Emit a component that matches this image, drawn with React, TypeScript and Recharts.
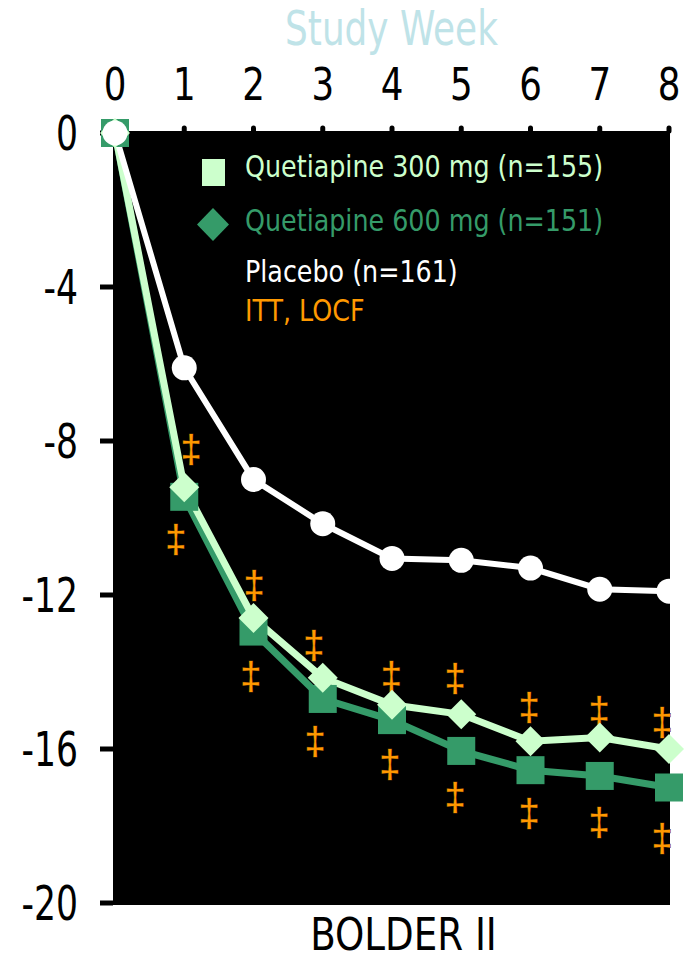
import React from 'react';
import {
    ComposedChart,
    Line,
    Scatter,
    XAxis,
    YAxis,
    CartesianGrid,
    Legend,
} from 'recharts';

const weeks = [0, 1, 2, 3, 4, 5, 6, 7, 8];
const placebo = [0, -6.1, -9.0, -10.15, -11.05, -11.1, -11.3, -11.85, -11.9];
const quet300 = [0, -9.2, -12.6, -14.15, -14.85, -15.1, -15.8, -15.7, -16.0];
const quet600 = [0, -9.45, -12.95, -14.7, -15.25, -16.05, -16.55, -16.7, -17.0];

// significance marks (‡)
const markAboveX = [1.1, 2.01, 2.87, 3.99, 4.91, 5.98, 6.99, 7.9];
const markAboveY = [-8.2, -11.75, -13.3, -14.1, -14.15, -14.9, -15.0, -15.3];
const markBelowX = [0.88, 1.96, 2.89, 3.97, 4.91, 5.98, 6.99, 7.9];
const markBelowY = [-10.55, -14.1, -15.8, -16.4, -17.25, -17.65, -17.9, -18.3];

const yTicks = [0, -4, -8, -12, -16, -20];

const LIGHT = '#ccffcc';
const DARK = '#359b69';
const ORANGE = '#ff9900';
const NARROW = "'Liberation Sans Narrow', 'Arial Narrow', 'DejaVu Sans Condensed', sans-serif";

const data = weeks.map((w, i) => ({
    week: w,
    placebo: placebo[i],
    q300: quet300[i],
    q600: quet600[i],
}));

const marks = [
    ...markAboveX.map((x, i) => ({ week: x, val: markAboveY[i] })),
    ...markBelowX.map((x, i) => ({ week: x, val: markBelowY[i] })),
];

// squeezed text, the fonts here are wider than the original condensed face
const Squeezed = ({ x, y, sx, anchor, size, fill, children, dy = 0 }: any) => (
    <g transform={`translate(${x},${y}) scale(${sx},1)`}>
        <text x={0} y={dy} textAnchor={anchor} fontFamily={NARROW} fontSize={size} fill={fill}>
            {children}
        </text>
    </g>
);

const TopTick = (props: any) => {
    const { x, y, payload } = props;
    return <Squeezed x={x} y={y} sx={0.9} anchor="middle" size={44} fill="#000">{payload.value}</Squeezed>;
};

const LeftTick = (props: any) => {
    const { x, y, payload } = props;
    return <Squeezed x={x} y={y} dy={17} sx={0.8} anchor="end" size={48} fill="#000">{payload.value}</Squeezed>;
};

const TopTitle = (props: any) => {
    const { viewBox } = props;
    return (
        <Squeezed x={viewBox.x + viewBox.width / 2} y={45} sx={0.83} anchor="middle" size={48} fill="#bfe3e8">
            Study Week
        </Squeezed>
    );
};

const BottomTitle = (props: any) => {
    const { viewBox } = props;
    return (
        <Squeezed x={viewBox.x + viewBox.width / 2 + 12} y={950} sx={0.92} anchor="middle" size={45} fill="#000">
            BOLDER II
        </Squeezed>
    );
};

const SquareDot = (props: any) => {
    const { cx, cy, index } = props;
    return <rect key={`sq-${index}`} x={cx - 14} y={cy - 14} width={28} height={28} fill={DARK} />;
};

const DiamondDot = (props: any) => {
    const { cx, cy, index } = props;
    const r = 15;
    return (
        <polygon
            key={`dm-${index}`}
            points={`${cx},${cy - r} ${cx + r},${cy} ${cx},${cy + r} ${cx - r},${cy}`}
            fill={LIGHT}
        />
    );
};

const CircleDot = (props: any) => {
    const { cx, cy, index } = props;
    return <circle key={`ci-${index}`} cx={cx} cy={cy} r={12.5} fill="#ffffff" />;
};

const Dagger = (props: any) => (
    <text
        x={props.cx}
        y={props.cy}
        textAnchor="middle"
        dominantBaseline="central"
        fontFamily="'Liberation Sans', Arial, sans-serif"
        fontSize={38}
        fill={ORANGE}
        stroke="#4a2a00"
        strokeWidth={1}
        paintOrder="stroke"
    >
        ‡
    </text>
);

const LegendBox = () => {
    const row = (h: number, color: string, text: string, marker?: React.ReactNode) => (
        <div style={{ display: 'flex', alignItems: 'center', height: h }}>
            <div style={{ width: 50, height: 36, position: 'relative', flex: 'none' }}>{marker}</div>
            <span
                style={{
                    color,
                    lineHeight: '36px',
                    whiteSpace: 'nowrap',
                    alignSelf: 'flex-start',
                    display: 'inline-block',
                    transform: 'scaleX(0.91)',
                    transformOrigin: 'left center',
                }}
            >
                {text}
            </span>
        </div>
    );
    return (
        <div style={{ fontFamily: NARROW, fontSize: 31 }}>
            {row(
                54,
                LIGHT,
                'Quetiapine 300 mg (n=155)',
                <svg width={50} height={36} style={{ position: 'absolute', left: 0, top: 0 }}>
                    <rect x={7} y={2} width={23} height={27} fill={LIGHT} />
                </svg>
            )}
            {row(
                51,
                DARK,
                'Quetiapine 600 mg (n=151)',
                <svg width={50} height={40} style={{ position: 'absolute', left: 0, top: -2 }}>
                    <polygon points="18,0 34,16.5 18,33 2,16.5" fill={DARK} />
                </svg>
            )}
            {row(39, '#ffffff', 'Placebo (n=161)')}
            {row(36, ORANGE, 'ITT, LOCF')}
        </div>
    );
};

export default function App() {
    return (
        <div style={{ position: 'absolute', left: 0, top: 0, width: 690, height: 960, background: '#fff' }}>
            <ComposedChart width={690} height={960} data={data} margin={{ top: 71, right: 20, bottom: 0, left: 13 }}>
                <CartesianGrid fill="#000" stroke="none" horizontal={false} vertical={false} />
                <XAxis
                    dataKey="week"
                    type="number"
                    orientation="top"
                    domain={[0, 8]}
                    ticks={weeks}
                    height={60}
                    padding={{ left: 2, right: 1 }}
                    axisLine={false}
                    tickLine={{ stroke: '#000', strokeWidth: 5, strokeLinecap: 'round' }}
                    tickSize={3}
                    tickMargin={28}
                    tick={<TopTick />}
                    label={<TopTitle />}
                />
                <XAxis
                    xAxisId="bottom"
                    dataKey="week"
                    type="number"
                    orientation="bottom"
                    domain={[0, 8]}
                    height={55}
                    axisLine={false}
                    tickLine={false}
                    tick={false}
                    label={<BottomTitle />}
                />
                <YAxis
                    type="number"
                    domain={[-20, 0]}
                    ticks={yTicks}
                    width={100}
                    padding={{ top: 2, bottom: 2 }}
                    axisLine={false}
                    tickLine={{ stroke: '#000', strokeWidth: 5 }}
                    tickSize={13}
                    tickMargin={22}
                    tick={<LeftTick />}
                />
                <Legend
                    layout="horizontal"
                    verticalAlign="middle"
                    align="center"
                    content={<LegendBox />}
                    wrapperStyle={{ left: 195, top: 148, width: 440, height: 180 }}
                />
                <Line
                    dataKey="q600"
                    stroke={DARK}
                    strokeWidth={7}
                    dot={SquareDot}
                    activeDot={false}
                    isAnimationActive={false}
                    legendType="none"
                />
                <Line
                    dataKey="q300"
                    stroke={LIGHT}
                    strokeWidth={7}
                    dot={DiamondDot}
                    activeDot={false}
                    isAnimationActive={false}
                    legendType="none"
                />
                <Line
                    dataKey="placebo"
                    stroke="#ffffff"
                    strokeWidth={6}
                    dot={CircleDot}
                    activeDot={false}
                    isAnimationActive={false}
                    legendType="none"
                />
                <Scatter data={marks} dataKey="val" shape={Dagger} isAnimationActive={false} legendType="none" />
            </ComposedChart>
        </div>
    );
}
